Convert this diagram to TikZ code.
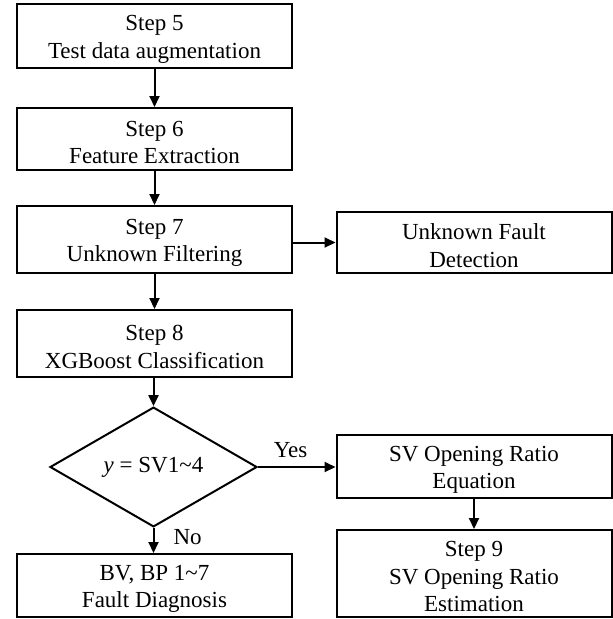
\documentclass[tikz,border=0pt]{standalone}
\usepackage{fontspec}
\setmainfont{Liberation Serif}
\usetikzlibrary{arrows.meta,shapes.geometric}
\newcommand{\tstrut}{\rule{0pt}{22pt}}
\begin{document}
\begin{tikzpicture}[x=1pt,y=-1pt,
  txt/.style={font=\fontsize{23}{27.5}\selectfont},
  box/.style={txt,draw,line width=2pt,minimum width=275pt,inner sep=0pt,align=center},
  dec/.style={txt,draw,diamond,line width=2pt,minimum width=207pt,minimum height=100pt,inner sep=0pt},
  arr/.style={line width=2pt,-{Triangle[length=11pt,width=10pt]}},
  lbl/.style={txt,inner sep=0pt}]
\useasboundingbox (0,0) rectangle (613,619);
\node[box,minimum height=64pt] (b5) at (154.5,36) {\tstrut Step 5\\Test data augmentation};
\node[box,minimum height=62pt] (b6) at (154.5,139) {\tstrut Step 6\\Feature Extraction};
\node[box,minimum height=67pt] (b7) at (154.5,239.5) {\tstrut Step 7\\Unknown Filtering};
\node[box,minimum height=67pt] (b8) at (154.5,343.5) {\tstrut Step 8\\XGBoost Classification};
\node[dec] (d) at (153.5,467) {\textit{y} = SV1\textasciitilde4};
\node[box,minimum height=63pt] (b10) at (154.5,585.5) {\tstrut BV, BP 1\textasciitilde7\\Fault Diagnosis};
\node[box,minimum height=61pt] (uf) at (474,242.5) {\tstrut Unknown Fault\\Detection};
\node[box,minimum height=63pt] (eq) at (474,466.5) {\tstrut SV Opening Ratio\\Equation};
\node[box,minimum height=87pt] (s9) at (474,573.5) {\tstrut Step 9\\SV Opening Ratio\\Estimation};
\draw[arr] (b5) -- (b6);
\draw[arr] (b6) -- (b7);
\draw[arr] (b7) -- (b8);
\draw[arr] (b8.south -| d.north) -- (d.north);
\draw[arr] (b7.east |- uf.west) -- (uf.west);
\draw[arr] (d.east) -- node[lbl,pos=0.42,above=8pt] {Yes} (d.east -| eq.west);
\draw[arr] (d.south) -- node[lbl,pos=0.35,anchor=west,xshift=19pt] {No} (d.south |- b10.north);
\draw[arr] (eq) -- (s9);
\end{tikzpicture}
\end{document}
